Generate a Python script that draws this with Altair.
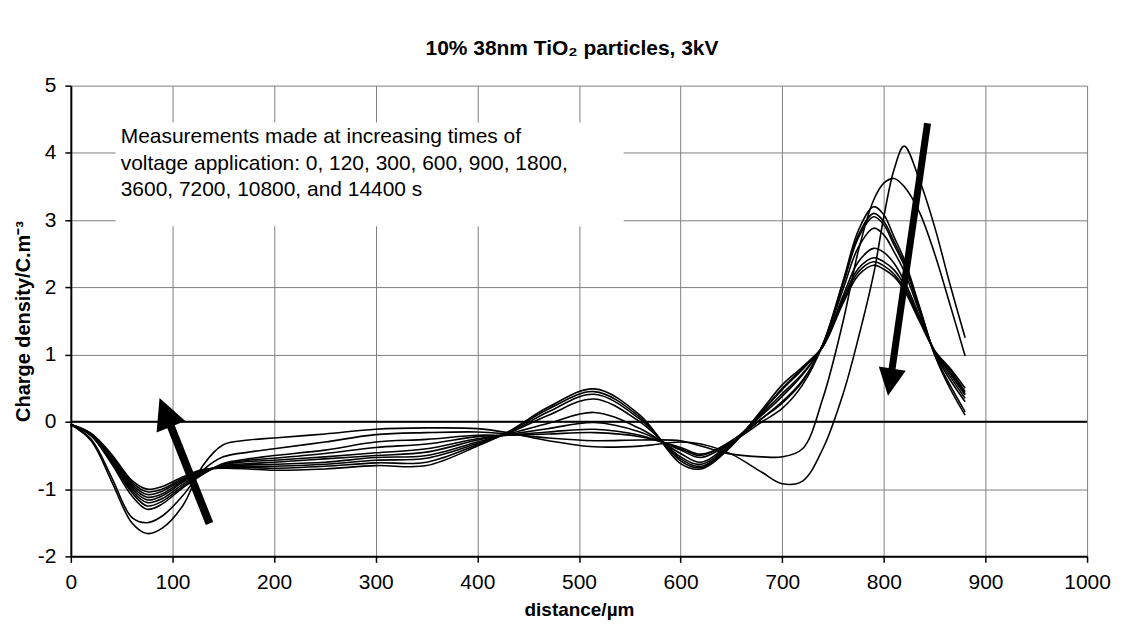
import altair as alt
import pandas as pd

# ---------------- data ----------------
X_UM = [0, 20, 40, 60, 75, 90, 110, 130, 150, 175,
        200, 250, 300, 350, 400, 430, 470, 515, 560, 600,
        620, 650, 680, 700, 720, 740, 760, 775, 790, 800,
        810, 820, 835, 850, 865, 880]

TIMES_S = [0, 120, 300, 600, 900, 1800, 3600, 7200, 10800, 14400]

Q_T0 = [-0.04, -0.28, -0.88, -1.5, -1.66, -1.58, -1.25, -0.65, -0.34, -0.27,
        -0.24, -0.18, -0.11, -0.09, -0.1, -0.16, -0.28, -0.37, -0.36, -0.3,
        -0.33, -0.48, -0.75, -0.92, -0.88, -0.4, 0.42, 1.25, 2.2, 3.05,
        3.75, 4.1, 3.6, 2.9, 2.05, 1.25]
Q_T120 = [-0.04, -0.26, -0.82, -1.42, -1.5, -1.4, -1.1, -0.72, -0.52, -0.45,
          -0.4, -0.3, -0.19, -0.16, -0.15, -0.18, -0.24, -0.28, -0.27, -0.28,
          -0.36, -0.48, -0.52, -0.52, -0.4, 0.35, 1.5, 2.55, 3.3, 3.55,
          3.62, 3.5, 3.12, 2.5, 1.75, 0.98]
Q_T300 = [-0.04, -0.21, -0.62, -1.1, -1.3, -1.22, -0.98, -0.78, -0.62, -0.55,
          -0.5, -0.42, -0.3, -0.26, -0.2, -0.2, -0.18, -0.16, -0.22, -0.38,
          -0.48, -0.3, 0.0, 0.2, 0.55, 1.15, 2.1, 2.85, 3.2, 3.08,
          2.75, 2.42, 1.72, 1.0, 0.5, 0.1]
Q_T600 = [-0.04, -0.2, -0.6, -1.05, -1.25, -1.18, -0.96, -0.77, -0.63, -0.57,
          -0.54, -0.47, -0.38, -0.33, -0.22, -0.2, -0.15, -0.11, -0.2, -0.4,
          -0.5, -0.28, 0.05, 0.28, 0.6, 1.15, 2.08, 2.78, 3.1, 2.98,
          2.68, 2.37, 1.7, 1.0, 0.55, 0.15]
Q_T900 = [-0.04, -0.2, -0.58, -1.02, -1.2, -1.14, -0.93, -0.75, -0.64, -0.59,
          -0.57, -0.52, -0.46, -0.4, -0.25, -0.19, -0.1, -0.01, -0.15, -0.42,
          -0.53, -0.3, 0.05, 0.3, 0.62, 1.15, 2.05, 2.74, 3.05, 2.93,
          2.63, 2.33, 1.68, 1.02, 0.63, 0.3]
Q_T1800 = [-0.04, -0.19, -0.56, -0.99, -1.16, -1.1, -0.9, -0.74, -0.65, -0.62,
           -0.6, -0.55, -0.5, -0.45, -0.27, -0.18, -0.02, 0.14, -0.1, -0.47,
           -0.6, -0.3, 0.1, 0.38, 0.7, 1.15, 1.98, 2.6, 2.88, 2.78,
           2.53, 2.24, 1.64, 1.03, 0.68, 0.35]
Q_T3600 = [-0.04, -0.19, -0.54, -0.96, -1.12, -1.07, -0.88, -0.73, -0.66, -0.64,
           -0.63, -0.6, -0.53, -0.5, -0.3, -0.17, 0.1, 0.34, 0.0, -0.52,
           -0.63, -0.32, 0.12, 0.42, 0.72, 1.12, 1.88, 2.38, 2.58, 2.52,
           2.36, 2.1, 1.58, 1.05, 0.72, 0.4]
Q_T7200 = [-0.04, -0.18, -0.52, -0.93, -1.08, -1.03, -0.86, -0.72, -0.67, -0.66,
           -0.66, -0.63, -0.57, -0.54, -0.32, -0.17, 0.15, 0.41, 0.04, -0.55,
           -0.66, -0.33, 0.15, 0.48, 0.78, 1.12, 1.84, 2.28, 2.44, 2.38,
           2.26, 2.04, 1.54, 1.05, 0.75, 0.42]
Q_T10800 = [-0.04, -0.18, -0.5, -0.9, -1.04, -1.0, -0.84, -0.72, -0.68, -0.68,
            -0.69, -0.66, -0.61, -0.6, -0.34, -0.16, 0.19, 0.45, 0.07, -0.58,
            -0.68, -0.35, 0.15, 0.5, 0.8, 1.12, 1.8, 2.23, 2.38, 2.32,
            2.2, 1.99, 1.52, 1.06, 0.78, 0.45]
Q_T14400 = [-0.04, -0.17, -0.48, -0.87, -1.0, -0.96, -0.82, -0.71, -0.69, -0.7,
            -0.72, -0.7, -0.65, -0.65, -0.36, -0.15, 0.22, 0.49, 0.1, -0.62,
            -0.7, -0.36, 0.18, 0.55, 0.82, 1.12, 1.77, 2.18, 2.33, 2.27,
            2.16, 1.96, 1.5, 1.06, 0.8, 0.5]

SERIES = [Q_T0, Q_T120, Q_T300, Q_T600, Q_T900,
          Q_T1800, Q_T3600, Q_T7200, Q_T10800, Q_T14400]

X_TICKS = list(range(0, 1001, 100))
Y_TICKS = list(range(-2, 6))

TITLE = "10% 38nm TiO\u2082 particles, 3kV"
X_TITLE = "distance/\u00b5m"
Y_TITLE = "Charge density/C.m\u207b\u00b3"
NOTE_LINES = ["Measurements made at increasing times of",
              "voltage application: 0, 120, 300, 600, 900, 1800,",
              "3600, 7200, 10800, and 14400 s"]

# ---------------- tables ----------------
rows = []
for t, vals in zip(TIMES_S, SERIES):
    for x, y in zip(X_UM, vals):
        rows.append({"x": x, "y": y, "t": t})
df_lines = pd.DataFrame(rows)

FONT = "Liberation Sans"

xscale = alt.Scale(domain=[0, 1000], nice=False, zero=False)
yscale = alt.Scale(domain=[-2, 5], nice=False, zero=False)

ax_x = alt.Axis(values=X_TICKS, title=X_TITLE, grid=True, gridColor="#808080",
                gridWidth=1, domainColor="black", domainWidth=2,
                tickColor="black", tickSize=6, tickWidth=1.5,
                labelFont=FONT, labelFontSize=21, labelColor="black",
                labelPadding=9, labelOverlap=False, labelFlush=False,
                labelExpr="'' + datum.value",
                titleFont=FONT, titleFontSize=19, titleFontWeight="bold",
                titleColor="black", titlePadding=8)
ax_y = alt.Axis(values=Y_TICKS, title=Y_TITLE, grid=True, gridColor="#808080",
                gridWidth=1, domainColor="black", domainWidth=2,
                tickColor="black", tickSize=6, tickWidth=1.5,
                labelFont=FONT, labelFontSize=21, labelColor="black",
                labelPadding=9, labelOverlap=False, labelFlush=False,
                labelExpr="'' + datum.value",
                titleFont=FONT, titleFontSize=20, titleFontWeight="bold",
                titleColor="black", titlePadding=4)

X = alt.X("x:Q", scale=xscale, axis=ax_x)
Y = alt.Y("y:Q", scale=yscale, axis=ax_y)

# white note box
box = alt.Chart(pd.DataFrame({"x": [44], "x2": [544], "y": [2.91], "y2": [4.45]})).mark_rect(
    fill="white", stroke=None).encode(x=X, x2="x2:Q", y=Y, y2="y2:Q")

zero = alt.Chart(pd.DataFrame({"y": [0]})).mark_rule(
    color="black", strokeWidth=2).encode(y=Y)

lines = alt.Chart(df_lines).mark_line(
    color="black", strokeWidth=1.6, interpolate="catmull-rom").encode(
    x=X, y=Y, detail="t:N", order="x:Q")

shafts = alt.Chart(pd.DataFrame({
    "x": [136.4, 843.0], "y": [-1.51, 4.44],
    "x2": [92.9, 806.2], "y2": [0.142, 0.59],
    "w": [8, 7]})).mark_rule(color="black", strokeCap="butt").encode(
    x=X, y=Y, x2="x2:Q", y2="y2:Q",
    strokeWidth=alt.StrokeWidth("w:Q", scale=None, legend=None))

heads = alt.Chart(pd.DataFrame({
    "x": [92.9, 806.2], "y": [0.142, 0.59],
    "a": [338.3, 189.0], "s": [961, 750]})).mark_point(
    shape="M0,-1L1,1L-1,1Z", filled=True, color="black", opacity=1,
    strokeWidth=0).encode(
    x=X, y=Y,
    angle=alt.Angle("a:Q", scale=None),
    size=alt.Size("s:Q", scale=None, legend=None))

note = alt.Chart(pd.DataFrame({"x": [49.1], "y": [4.144]})).mark_text(
    text=NOTE_LINES, align="left", baseline="alphabetic", font=FONT,
    fontSize=21, lineHeight=26.7, color="black").encode(x=X, y=Y)

chart = alt.layer(box, zero, lines, shafts, heads, note).properties(
    width=1019, height=472,
    padding={"left": 63, "top": 77, "right": 30, "bottom": 77},
    autosize=alt.AutoSizeParams(type="none"),
    title=alt.TitleParams(TITLE, font=FONT, fontSize=21, fontWeight="bold",
                          color="black", anchor="middle", offset=16, dx=-7),
).configure_view(stroke=None)

chart.save("out.html", embed_options={"renderer": "svg", "actions": False})
